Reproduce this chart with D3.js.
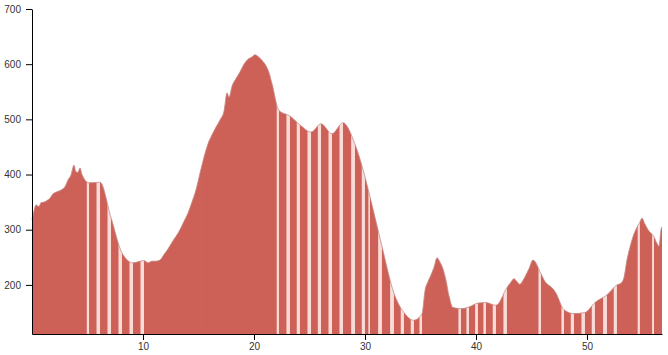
<!DOCTYPE html>
<html>
<head>
<meta charset="utf-8">
<script src="https://cdn.jsdelivr.net/npm/d3@7"></script>
<style>
  body { margin: 0; background: #fff; }
</style>
</head>
<body>
<svg id="chart" width="668" height="355"></svg>
<script>
// distance along the route (km) and elevation (m)
const distance = [
  0.00, 0.18, 0.36, 0.63, 0.81, 1.08, 1.35, 1.62, 1.89, 2.16, 2.43, 2.70, 2.97, 3.24, 3.51, 3.78, 3.96, 4.14, 4.32, 4.50,
  5.14, 6.13, 7.12, 8.11, 9.10,
  10.09, 10.45, 10.81, 11.17, 11.53, 11.89, 12.25, 12.61, 12.97, 13.33, 13.69, 14.05, 14.41, 14.77, 15.14, 15.50, 15.86,
  16.22, 16.58, 16.94, 17.30, 17.57, 17.75, 18.02, 18.38, 18.74, 19.10, 19.46, 19.82, 20.09, 20.36, 20.72, 21.08, 21.35, 21.62,
  22.25, 23.24, 24.14, 25.14, 26.04, 27.03, 28.02, 29.10, 30.00, 30.45, 31.53, 32.61, 33.51, 34.41, 35.14,
  35.41, 35.68, 35.95, 36.22, 36.49, 36.76, 37.03, 37.30, 37.57,
  37.93, 38.65, 39.37, 40.18, 40.90, 41.80,
  42.79, 43.15, 43.42, 43.69, 43.96, 44.23, 44.50, 44.77, 45.14,
  45.86, 46.22, 46.58, 46.94, 47.21,
  47.93, 48.83, 49.82, 50.72, 51.80,
  52.70, 53.06, 53.33, 53.60, 53.87, 54.14,
  54.77, 54.95, 55.23, 55.50, 56.04, 56.31, 56.49, 56.67, 56.76
];
const elevation = [
  318, 334, 345, 342, 349, 350, 353, 357, 365, 368, 370, 373, 378, 390, 399, 417, 405, 404, 412, 400,
  385, 386, 322, 258, 240,
  244, 240, 243, 243, 245, 255, 265, 277, 288, 300, 315, 330, 350, 372, 403, 432, 456,
  472, 486, 499, 515, 548, 540, 560, 574, 586, 600, 609, 613, 617, 614, 607, 597, 585, 565,
  516, 506, 490, 477, 492, 474, 494, 455, 396, 360, 270, 185, 150, 136, 148,
  190, 206, 218, 232, 249, 241, 229, 208, 180,
  159, 157, 160, 167, 168, 163,
  195, 205, 211, 206, 201, 208, 218, 229, 245,
  220, 206, 199, 193, 185,
  155, 148, 150, 168, 182,
  200, 203, 213, 245, 268, 287,
  314, 321, 310, 300, 287, 275, 270, 300, 305
];
const xTicks = [10, 20, 30, 40, 50];
const yTicks = [200, 300, 400, 500, 600, 700];
const yMin = 111;
const yMax = 700;

const svg = d3.select("#chart");
const margin = { top: 9, right: 6, bottom: 21, left: 32 };
const width = 668 - margin.left - margin.right;
const height = 355 - margin.top - margin.bottom;

const points = distance.map((d, i) => ({ km: d, ele: elevation[i] }));

const x = d3.scaleLinear().domain([0, d3.max(distance)]).range([0, width]);
const y = d3.scaleLinear().domain([yMin, yMax]).range([height, 0]);

const g = svg.append("g").attr("transform", `translate(${margin.left},${margin.top})`);

const area = d3.area()
  .x(d => x(d.km))
  .y0(height)
  .y1(d => y(d.ele))
  .curve(d3.curveMonotoneX);

const line = d3.line()
  .x(d => x(d.km))
  .y(d => y(d.ele))
  .curve(d3.curveMonotoneX);

// clip the bars to the profile
g.append("clipPath")
  .attr("id", "profile-clip")
  .append("path")
  .attr("d", area(points));

// pale underlay, shows through between sparse bars
g.append("path")
  .attr("d", area(points))
  .attr("fill", "#f9dcd7");

// one bar per sample, width follows spacing to the next sample
g.append("g")
  .attr("clip-path", "url(#profile-clip)")
  .selectAll("rect")
  .data(points)
  .join("rect")
  .attr("x", d => x(d.km))
  .attr("y", 0)
  .attr("width", (d, i) => {
    const next = points[i + 1] || points[i];
    const prev = points[i - 1];
    let sp = x(next.km) - x(d.km);
    if (sp === 0 && prev) sp = x(d.km) - x(prev.km);
    return sp > 4.5 ? sp * 0.68 : sp + 0.6;
  })
  .attr("height", height)
  .attr("fill", "#cd6158");

g.append("path")
  .attr("d", line(points))
  .attr("fill", "none")
  .attr("stroke", "#c48e8a")
  .attr("stroke-width", 0.8);

// axes
const xAxis = g.append("g")
  .attr("transform", `translate(0,${height})`)
  .call(d3.axisBottom(x).tickValues(xTicks).tickSizeOuter(0));

const yAxis = g.append("g")
  .call(d3.axisLeft(y).tickValues(yTicks).tickSizeOuter(0).tickPadding(5));

svg.selectAll(".tick text")
  .attr("font-family", "Liberation Sans, Arial, sans-serif")
  .attr("font-size", 10)
  .attr("fill", "#333");
</script>
</body>
</html>
